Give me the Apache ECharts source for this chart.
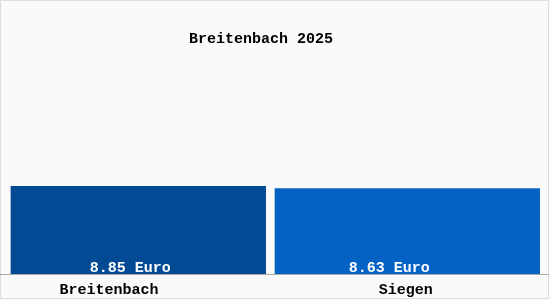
<!DOCTYPE html>
<html>
<head>
<meta charset="utf-8">
<script src="https://cdn.jsdelivr.net/npm/echarts@6/dist/echarts.min.js"></script>
<style>html,body{margin:0;padding:0;background:#fafafa;}#c{width:550px;height:300px;}</style>
</head>
<body>
<div id="c"></div>
<script>
var titleText = 'Breitenbach 2025';
var categories = ['Breitenbach', 'Siegen'];
var values = [8.85, 8.63];
var unit = 'Euro';
var barColors = ['#034a94', '#0462c5'];

var barWidths = [256, 266];
var labelOffsets = [[-8, 1], [-18, 1]];
var catPads = [[0, 68, 0, 0], [0, 4, 0, 0]];

var chart = echarts.init(document.getElementById('c'));
var font = '"Liberation Mono", "DejaVu Sans Mono", monospace';
var rich = {};
categories.forEach(function (c, i) {
  rich['c' + i] = { fontFamily: font, fontSize: 15, fontWeight: 'bold', color: '#000', padding: catPads[i] };
});
var series = values.map(function (v, i) {
  var d = values.map(function (w, j) { return j === i ? w : '-'; });
  return {
    type: 'bar', barWidth: barWidths[i], barGap: '-100%',
    itemStyle: { color: barColors[i] },
    data: d,
    label: {
      show: true, position: 'insideBottom', distance: 0, offset: labelOffsets[i],
      fontFamily: font, fontSize: 15, fontWeight: 'bold', color: '#fff',
      formatter: function (p) { return p.value.toFixed(2) + ' ' + unit; }
    }
  };
});
chart.setOption({
  backgroundColor: '#fafafa',
  animation: false,
  title: {
    text: titleText, left: 256, top: 27, textAlign: 'center',
    textStyle: { fontFamily: font, fontSize: 15, fontWeight: 'bold', color: '#000' }
  },
  graphic: [{
    type: 'rect', shape: { x: 0.5, y: 0.5, width: 548, height: 298 },
    style: { fill: 'none', stroke: '#dddddd', lineWidth: 1 }, silent: true, z: 100
  }, {
    type: 'line', shape: { x1: 0, y1: 274.5, x2: 549, y2: 274.5 },
    style: { stroke: '#aaaaaa', lineWidth: 1 }, silent: true, z: 100
  }],
  grid: { left: 10.65, right: 10, top: 10, bottom: 25 },
  xAxis: {
    type: 'category', data: categories,
    axisLine: { show: false },
    axisTick: { show: false },
    axisLabel: {
      margin: 8,
      formatter: function (v, i) { return '{c' + i + '|' + v + '}'; },
      rich: rich
    }
  },
  yAxis: { type: 'value', min: 0, max: 26.35, show: false, splitLine: { show: false } },
  series: series
});
</script>
</body>
</html>
